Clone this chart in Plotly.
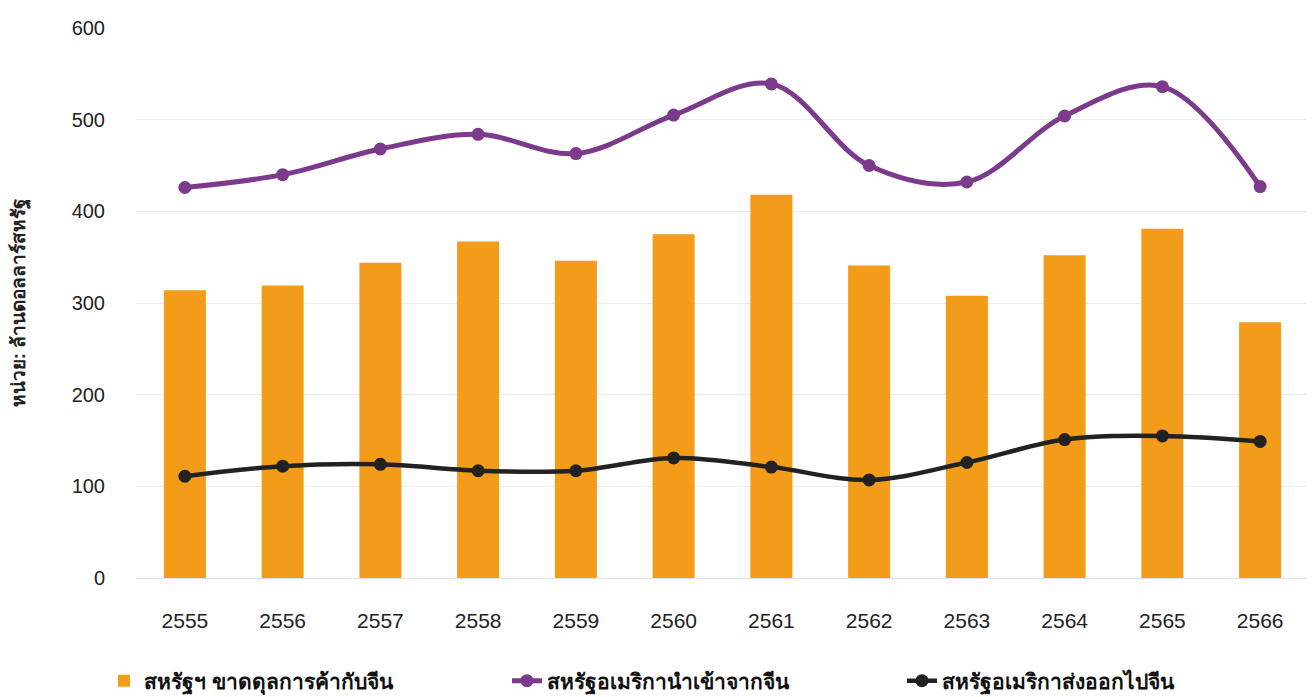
import plotly.graph_objects as go

years = ['2555', '2556', '2557', '2558', '2559', '2560', '2561', '2562', '2563', '2564', '2565', '2566']
deficit = [314, 319, 344, 367, 346, 375, 418, 341, 308, 352, 381, 279]
imports_from_china = [426, 440, 468, 484, 463, 505, 539, 450, 432, 504, 536, 427]
exports_to_china = [111, 122, 124, 117, 117, 131, 121, 107, 126, 151, 155, 149]

fig = go.Figure()

fig.add_trace(go.Bar(
    x=years, y=deficit, name='<b>สหรัฐฯ ขาดดุลการค้ากับจีน</b>',
    marker_color='#F39C1A', marker_line_width=0, legend='legend',
))
fig.add_trace(go.Scatter(
    x=years, y=imports_from_china, name='<b>สหรัฐอเมริกานำเข้าจากจีน</b>',
    mode='lines+markers', line=dict(color='#7B3A8C', width=5, shape='spline', smoothing=1),
    marker=dict(size=13, color='#7B3A8C'), legend='legend2',
))
fig.add_trace(go.Scatter(
    x=years, y=exports_to_china, name='<b>สหรัฐอเมริกาส่งออกไปจีน</b>',
    mode='lines+markers', line=dict(color='#222222', width=4.5, shape='spline', smoothing=1),
    marker=dict(size=13, color='#222222'), legend='legend3',
))

legend_style = dict(
    orientation='h', xref='container', yref='container',
    y=0.005, xanchor='left', yanchor='bottom',
    font=dict(size=21, color='#111'), itemwidth=30,
    bgcolor='rgba(0,0,0,0)',
)

# page has an 8px body margin, so offsets are shifted accordingly
fig.update_layout(
    width=1314, height=697,
    margin=dict(l=128, r=13, t=20, b=127, autoexpand=False),
    plot_bgcolor='white', paper_bgcolor='white',
    font=dict(family='Liberation Sans, Noto Sans, sans-serif', color='#222', size=20),
    bargap=0.57,
    showlegend=True,
    legend=dict(legend_style, x=96 / 1314),
    legend2=dict(legend_style, x=499 / 1314),
    legend3=dict(legend_style, x=894 / 1314),
)
fig.update_xaxes(range=[-0.5, 11.5], showgrid=False, showline=False, ticks='', ticklabelstandoff=28,
                 tickfont=dict(size=21), automargin=False)
fig.update_yaxes(range=[0, 600], dtick=100, showgrid=True, gridcolor='#ECECEC', gridwidth=1,
                 zeroline=True, zerolinecolor='#E2E2E2', zerolinewidth=1,
                 ticklabelstandoff=30, tickfont=dict(size=20), automargin=False,
                 title=dict(text='<b>หน่วย: ล้านดอลลาร์สหรัฐ</b>', font=dict(size=19), standoff=45))

fig.write_html("out.html")
